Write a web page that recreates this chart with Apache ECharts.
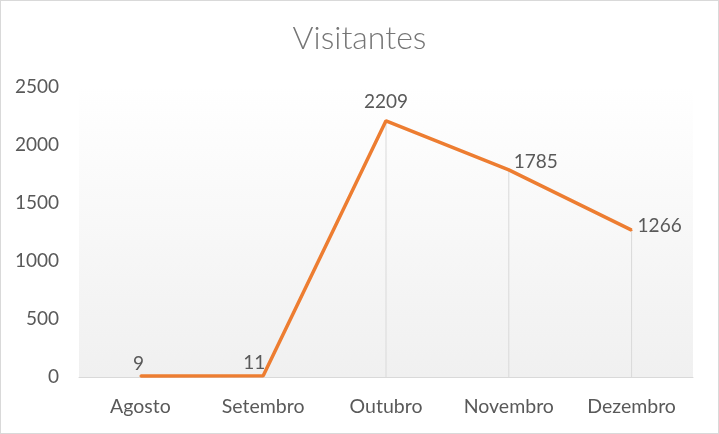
<!DOCTYPE html>
<html>
<head>
<meta charset="utf-8">
<style>
  html, body { margin: 0; padding: 0; background: #fff; }
  #chart {
    width: 719px;
    height: 434px;
    box-sizing: border-box;
    border: 1px solid #d9d9d9;
  }
</style>
<script src="https://cdn.jsdelivr.net/npm/echarts@6/dist/echarts.min.js"></script>
</head>
<body>
<div id="chart"></div>
<script>
// dados do gráfico
const meses = ['Agosto', 'Setembro', 'Outubro', 'Novembro', 'Dezembro'];
const visitantes = [9, 11, 2209, 1785, 1266];
const yTicks = [0, 500, 1000, 1500, 2000, 2500];

const chart = echarts.init(document.getElementById('chart'));

// posição dos rótulos de dados, como no original
const labelPos = ['top', 'top', 'top', 'right', 'right'];
const labelOffset = [[-2, 4], [-9, 4], [0, -2], [-2, -8], [-1, -4]];

const option = {
  animation: false,
  textStyle: { fontFamily: 'Lato' },
  title: {
    text: 'Visitantes',
    left: 'center',
    top: 17,
    textStyle: { fontFamily: 'Lato', fontWeight: 300, fontSize: 32, color: '#757575' }
  },
  grid: {
    left: 78, right: 25, top: 86, bottom: 56,
    show: true,
    borderWidth: 0,
    backgroundColor: new echarts.graphic.LinearGradient(0, 0, 0, 1, [
      { offset: 0, color: '#ffffff' },
      { offset: 1, color: '#f0f0f0' }
    ])
  },
  xAxis: {
    type: 'category',
    data: meses,
    axisLine: { lineStyle: { color: '#d9d9d9', width: 1 } },
    axisTick: { show: false },
    axisLabel: { color: '#595959', fontSize: 19.5, margin: 20 }
  },
  yAxis: {
    type: 'value',
    min: yTicks[0],
    max: yTicks[yTicks.length - 1],
    interval: 500,
    axisLine: { show: false },
    axisTick: { show: false },
    splitLine: { show: false },
    axisLabel: { color: '#595959', fontSize: 19, margin: 20, formatter: v => String(v) }
  },
  series: [
    {
      type: 'bar',
      data: visitantes,
      barWidth: 1,
      silent: true,
      itemStyle: { color: '#d9d9d9' }
    },
    {
      type: 'line',
      data: visitantes.map((v, i) => ({
        value: v,
        label: { position: labelPos[i], offset: labelOffset[i] }
      })),
      symbol: 'circle',
      symbolSize: 2,
      showSymbol: true,
      itemStyle: { color: '#ed7d31' },
      lineStyle: { color: '#ed7d31', width: 3.5 },
      label: {
        show: true,
        color: '#595959',
        fontSize: 19,
        distance: 6
      },
      z: 3
    }
  ]
};

chart.setOption(option);
</script>
</body>
</html>
